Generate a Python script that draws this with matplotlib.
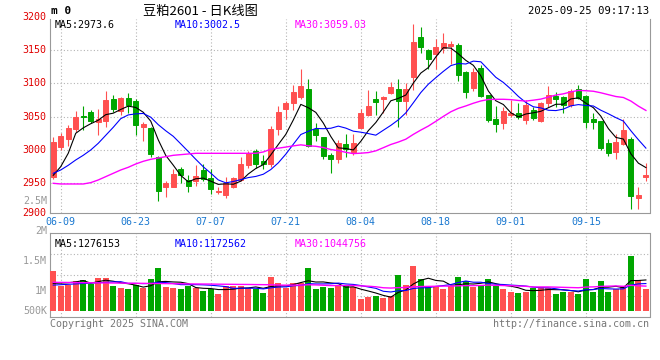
import numpy as np
import pandas as pd
import matplotlib
matplotlib.use('Agg')
import matplotlib.pyplot as plt

# ---- data (80 daily bars, 06-06 .. 09-25) ----
opens = [2960, 3004, 3016, 3031, 3051, 3057, 3042, 3043, 3076, 3059,
         3078, 3074, 3034, 3033, 2990, 2944, 2945, 2971, 2955, 2953,
         2970, 2958, 2937, 2932, 2944, 2955, 2977, 2998, 2983, 2979,
         3032, 3061, 3071, 3079, 3091, 3031, 3019, 2992, 2986, 3009,
         2997, 3033, 3052, 3076, 3077, 3086, 3091, 3073, 3110, 3170,
         3150, 3144, 3153, 3156, 3157, 3117, 3093, 3123, 3082, 3046,
         3041, 3052, 3055, 3045, 3060, 3043, 3071, 3081, 3079, 3067,
         3091, 3081, 3047, 3043, 3010, 2997, 3009, 3016, 2928, 2960]
highs = [3019, 3025, 3037, 3058, 3066, 3060, 3061, 3088, 3082, 3080,
         3086, 3076, 3042, 3034, 2991, 2953, 2971, 2975, 2963, 2978,
         2979, 2972, 2945, 2960, 2960, 2989, 2998, 3002, 2992, 3036,
         3066, 3073, 3097, 3121, 3106, 3040, 3020, 2995, 3015, 3024,
         3024, 3062, 3090, 3088, 3081, 3102, 3107, 3101, 3189, 3185,
         3152, 3166, 3176, 3164, 3161, 3118, 3123, 3127, 3083, 3066,
         3064, 3075, 3070, 3075, 3064, 3072, 3096, 3087, 3081, 3091,
         3098, 3083, 3055, 3044, 3017, 3024, 3047, 3019, 2945, 2980]
lows = [2957, 3000, 3006, 3027, 3030, 3041, 3022, 3035, 3057, 3052,
        3056, 3022, 3014, 2990, 2924, 2929, 2944, 2951, 2937, 2946,
        2953, 2934, 2934, 2928, 2943, 2954, 2973, 2973, 2972, 2975,
        3023, 3046, 3060, 3077, 3005, 3014, 2986, 2966, 2981, 2989,
        2992, 3033, 3051, 3052, 3055, 3084, 3034, 3053, 3090, 3146,
        3121, 3122, 3145, 3129, 3103, 3078, 3088, 3079, 3042, 3027,
        3031, 3050, 3046, 3039, 3045, 3042, 3065, 3065, 3056, 3065,
        3076, 3033, 3031, 3000, 2991, 2986, 3007, 2911, 2912, 2954]
closes = [3012, 3021, 3033, 3050, 3050, 3043, 3047, 3075, 3061, 3078,
          3068, 3037, 3039, 2994, 2938, 2951, 2964, 2962, 2946, 2961,
          2956, 2941, 2938, 2950, 2958, 2979, 2995, 2979, 2979, 3031,
          3057, 3071, 3087, 3096, 3006, 3022, 2991, 2986, 3011, 3001,
          3011, 3056, 3066, 3072, 3080, 3095, 3074, 3091, 3162, 3155,
          3136, 3154, 3160, 3159, 3112, 3087, 3117, 3081, 3045, 3039,
          3059, 3055, 3050, 3067, 3048, 3070, 3082, 3076, 3067, 3088,
          3078, 3042, 3042, 3003, 2995, 3012, 3030, 2931, 2933, 2962]
# volume in thousands of lots
volumes = [1492, 1125, 1142, 1242, 1267, 1167, 1317, 1317, 1117, 1075,
           1042, 1142, 1075, 1292, 1567, 1085, 1075, 1042, 1117, 1075,
           992, 1042, 917, 1117, 1125, 1117, 1075, 1035, 950, 1342,
           1200, 1075, 1200, 1200, 1567, 1042, 1085, 1075, 1117, 1125,
           1085, 792, 842, 867, 825, 867, 1392, 1142, 1617, 1292,
           1117, 1117, 1050, 1117, 1342, 1242, 1085, 1142, 1292, 1117,
           1042, 975, 942, 975, 1075, 1085, 1075, 917, 967, 975,
           930, 1300, 980, 1250, 980, 1042, 1117, 1875, 1260, 1050]

# moving-average values before each window fills (earlier history)
ma5_head = [2962, 2975, 2995, 3025]
ma10_head = [2965, 2970, 2977, 2985, 2992, 3000, 3010, 3022, 3034]
ma30_head = [2950, 2949, 2949, 2949, 2949, 2951, 2955, 2960, 2965, 2970,
             2974, 2979, 2983, 2986, 2988, 2990, 2992, 2993, 2994, 2995,
             2995, 2995, 2995, 2995, 2995, 2995, 2995, 2995, 2997]
vma5_head = [1185, 1190, 1200, 1220]
vma10_head = [1140, 1150, 1160, 1170, 1180, 1190, 1200, 1210, 1220]
vma30_head = [1210, 1208, 1206, 1203, 1200, 1199, 1197, 1194, 1192, 1190,
              1187, 1185, 1184, 1181, 1180, 1177, 1175, 1174, 1171, 1169,
              1167, 1166, 1163, 1161, 1159, 1157, 1156, 1153, 1151]

tick_idx = [1, 11, 21, 31, 41, 51, 61, 71]
tick_lbl = ['06-09', '06-23', '07-07', '07-21', '08-04', '08-18', '09-01', '09-15']
price_ticks = [2950, 3000, 3050, 3100, 3150]
vol_lbl = ['2.5M', '2M', '1.5M', '1M', '500K']


def moving(series, n, head):
    s = pd.Series(series, dtype=float).rolling(n).mean().to_numpy()
    s[:len(head)] = head
    return s


RED = '#ff5050'
GREEN = '#00a600'
GRID = '#b4b4b4'
MONO = 'DejaVu Sans Mono'
FS = 7.2

W, H = 660, 360
fig = plt.figure(figsize=(W / 100, H / 100), dpi=100)


def px_axes(l, t, r, b):
    return fig.add_axes([l / W, 1 - b / H, (r - l) / W, (b - t) / H])


def dotted(axis, horizontal, val):
    f = axis.axhline if horizontal else axis.axvline
    f(val, color=GRID, lw=0.8, ls=(0, (1, 2)), zorder=1)


x = np.arange(len(closes))
o, h, l, c = (np.array(a, float) for a in (opens, highs, lows, closes))
up = c >= o
cols = np.where(up, RED, GREEN)

# ---------- price panel ----------
ax = px_axes(50, 19, 649.5, 213.3)
xlim = (-0.43, 79.48)
ax.set_xlim(*xlim)
ax.set_ylim(2905, 3196.5)
ax.vlines(x, l, h, colors=cols, lw=0.8, zorder=3)
ax.bar(x, np.abs(c - o), bottom=np.minimum(o, c), width=0.68, color=cols,
       edgecolor=cols, linewidth=0.7, zorder=4)
ax.plot(x, moving(closes, 5, ma5_head), color='black', lw=0.8, zorder=5)
ax.plot(x, moving(closes, 10, ma10_head), color='#0000ff', lw=0.8, zorder=5)
ax.plot(x, moving(closes, 30, ma30_head), color='#ff00ff', lw=1.0, zorder=5)

for p in price_ticks:
    dotted(ax, True, p)
for t in tick_idx:
    dotted(ax, False, t)
ax.set_xticks([])
ax.set_yticks([])
for sp in ax.spines.values():
    sp.set_color('#999999')
ax.spines['top'].set_visible(False)

ytr = ax.get_yaxis_transform()
for p in price_ticks + [3200]:
    ax.text(-0.006, p, str(p), transform=ytr, ha='right', va='center',
            color='#e00000', fontsize=FS, family=MONO, clip_on=False)
ax.text(-0.006, 2906, '2900', transform=ytr, ha='right', va='center',
        color='#e00000', fontsize=FS, family=MONO, clip_on=False)
for t, s in zip(tick_idx, tick_lbl):
    ax.text(t, -0.045, s, transform=ax.get_xaxis_transform(), ha='center',
            va='center', color='#1a78d0', fontsize=FS, family=MONO)

ax.text(0.008, 0.97, 'MA5:%.1f' % 2973.6, transform=ax.transAxes, va='center',
        fontsize=FS, family=MONO, color='black')
ax.text(0.208, 0.97, 'MA10:%.1f' % 3002.5, transform=ax.transAxes, va='center',
        fontsize=FS, family=MONO, color='#0000ff')
ax.text(0.408, 0.97, 'MA30:%.2f' % 3059.03, transform=ax.transAxes, va='center',
        fontsize=FS, family=MONO, color='#ff00ff')

# ---------- volume panel ----------
av = px_axes(50, 233.3, 649.5, 317.3)
av.set_xlim(*xlim)
vol_base = 500            # bars stand on 500K
k_per_px = 25
av.set_ylim(vol_base - 6.6 * k_per_px, vol_base + 77.4 * k_per_px)
v = np.array(volumes, float)
av.bar(x, v - vol_base, bottom=vol_base, width=0.8, color=cols, zorder=3)
av.plot(x, moving(volumes, 5, vma5_head), color='black', lw=0.8, zorder=5)
av.plot(x, moving(volumes, 10, vma10_head), color='#0000ff', lw=0.8, zorder=5)
av.plot(x, moving(volumes, 30, vma30_head), color='#ff00ff', lw=1.0, zorder=5)
lo, hi = av.get_ylim()
for f in (0.25, 0.5, 0.75):
    dotted(av, True, lo + f * (hi - lo))
for t in tick_idx:
    dotted(av, False, t)
av.set_xticks([])
av.set_yticks([])
for sp in av.spines.values():
    sp.set_color('#999999')

for s, ypx in zip(vol_lbl, [200.7, 230.7, 260.7, 290.7, 310.7]):
    fig.text(47 / W, 1 - ypx / H, s, ha='right', va='center', color='#999999',
             fontsize=FS, family=MONO)

av.text(0.008, 0.87, 'MA5:1276153', transform=av.transAxes, va='center',
        fontsize=FS, family=MONO, color='black')
av.text(0.208, 0.87, 'MA10:1172562', transform=av.transAxes, va='center',
        fontsize=FS, family=MONO, color='#0000ff')
av.text(0.408, 0.87, 'MA30:1044756', transform=av.transAxes, va='center',
        fontsize=FS, family=MONO, color='#ff00ff')

# ---------- header / footer ----------
fig.text(51 / W, 1 - 11 / H, 'm 0', fontsize=8, family=MONO, weight='bold', va='center')
fig.text(200 / W, 1 - 11 / H, '豆粕2601 - 日K线图', fontsize=9.5, ha='center', va='center',
         family=['Noto Sans CJK SC', 'DejaVu Sans'])
fig.text(649 / W, 1 - 11 / H, '2025-09-25 09:17:13', fontsize=7.6, ha='right',
         va='center', family=MONO)
fig.text(50 / W, 1 - 324 / H, 'Copyright 2025 SINA.COM', fontsize=FS, va='center',
         family=MONO, color='#777777')
fig.text(649 / W, 1 - 324 / H, 'http://finance.sina.com.cn', fontsize=FS, ha='right',
         va='center', family=MONO, color='#777777')

fig.savefig('out.png', dpi=100)
